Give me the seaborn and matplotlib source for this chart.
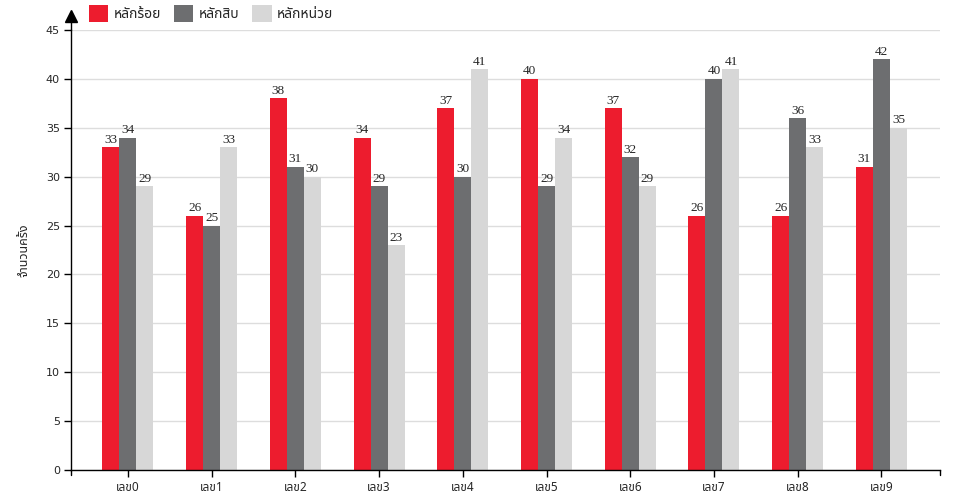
import matplotlib
matplotlib.use("Agg")
import numpy as np, pandas as pd
import seaborn as sns
import matplotlib.pyplot as plt

sns.set_style("white")
plt.rcParams['font.family'] = ['DejaVu Sans', 'Noto Sans Thai']

# ข้อมูล
categories = ["เลข0", "เลข1", "เลข2", "เลข3", "เลข4", "เลข5", "เลข6", "เลข7", "เลข8", "เลข9"]
series_names = ["หลักร้อย", "หลักสิบ", "หลักหน่วย"]
hundreds = [33, 26, 38, 34, 37, 40, 37, 26, 26, 31]
tens = [34, 25, 31, 29, 30, 29, 32, 40, 36, 42]
units = [29, 33, 30, 23, 41, 34, 29, 41, 33, 35]
colors = ["#ED1C2E", "#6D6E70", "#D7D7D7"]
y_ticks = [0, 5, 10, 15, 20, 25, 30, 35, 40, 45]

df = pd.DataFrame({
    "digit": categories * 3,
    "count": hundreds + tens + units,
    "place": [series_names[0]] * 10 + [series_names[1]] * 10 + [series_names[2]] * 10,
})

fig = plt.figure(figsize=(9.6, 5), dpi=100)
ax = fig.add_axes([71 / 960, 30 / 500, 869 / 960, 440 / 500])

sns.barplot(data=df, x="digit", y="count", hue="place", hue_order=series_names,
            palette=colors, width=0.61, gap=0, saturation=1, ax=ax, legend=True,
            edgecolor="none", linewidth=0)

for c in ax.containers:
    ax.bar_label(c, padding=1, fontsize=9.5, family="Liberation Serif")

ax.set_ylim(0, 45)
ax.set_yticks(y_ticks)
ax.set_xlim(-0.68, 9.70)
ax.yaxis.grid(True, color="#dddddd", lw=1)
ax.set_axisbelow(True)
ax.tick_params(axis="both", direction="out", length=5, width=1, color="black",
               labelsize=8, left=True, bottom=True, pad=3)
ax.set_xticks(range(10))
ax.set_xticklabels(categories, family=['Noto Sans Thai', 'DejaVu Sans'], fontsize=8.5)
ax.set_xlabel("")
ax.set_ylabel("จำนวนครั้ง", family=['Noto Sans Thai', 'DejaVu Sans'], fontsize=9, labelpad=11)

for s in ["top", "right"]:
    ax.spines[s].set_visible(False)
for s in ["left", "bottom"]:
    ax.spines[s].set_color("black")
    ax.spines[s].set_linewidth(1)

# ขีดปลายแกน x
for xe in ax.get_xlim():
    ax.plot([xe, xe], [0, -0.55], color="black", lw=1, clip_on=False)

# ลูกศรบนแกน y
ax.plot([0, 0], [1.0, 1.02], color="black", lw=1, transform=ax.transAxes, clip_on=False)
ax.plot([0], [1.032], marker="^", markersize=9, color="black", transform=ax.transAxes, clip_on=False)

handles, labels = ax.get_legend_handles_labels()
ax.legend(handles, labels, loc="upper left", bbox_to_anchor=(89 / 960, 1 - 5 / 500),
          bbox_transform=fig.transFigure, ncol=3, frameon=False,
          handlelength=1.4, handleheight=1.5, handletextpad=0.36, columnspacing=0.95,
          prop={"family": ['Noto Sans Thai', 'DejaVu Sans'], "size": 10}, borderaxespad=0,
          borderpad=0)

fig.savefig("out.png", dpi=100)
